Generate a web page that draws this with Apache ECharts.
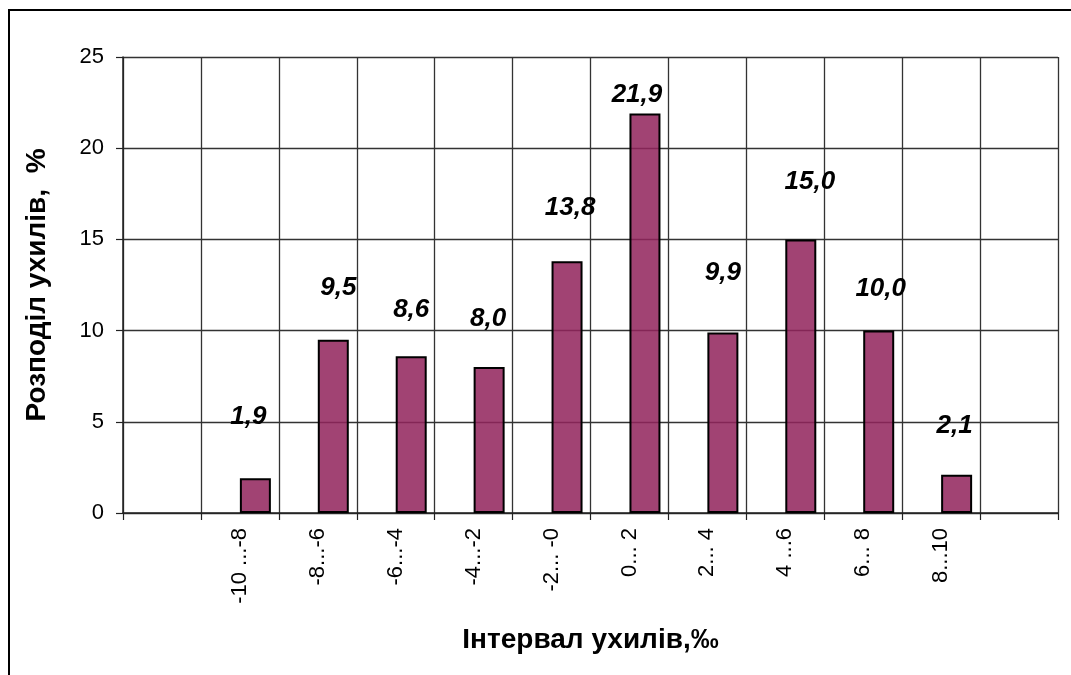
<!DOCTYPE html>
<html>
<head>
<meta charset="utf-8">
<title>Розподіл ухилів</title>
<script src="https://cdn.jsdelivr.net/npm/echarts@6/dist/echarts.min.js"></script>
<style>
  html, body { margin: 0; padding: 0; background: #ffffff; }
  #chart { width: 1071px; height: 675px; }
</style>
</head>
<body>
<div id="chart"></div>
<script>
// Deviation intervals (‰); the outer slots stay empty to pad the axis
const categories = ['', '-10 ...-8', '-8...-6', '-6...-4', '-4...-2', '-2... -0', '0... 2', '2... 4', '4 ...6', '6... 8', '8...10', ''];
// Share of deviations in each interval, %
const shares = [null, 1.9, 9.5, 8.6, 8.0, 13.8, 21.9, 9.9, 15.0, 10.0, 2.1, null];
// Empty companion series: keeps each bar in the right half of its slot
const spacer = categories.map(() => null);
// Hand placement of each value label, relative to its bar top [dx, dy]
const labelShift = [null, [-7, -62], [5, -52], [0, -46], [-1, -48], [3, -53], [-8, -19], [0, -60], [9, -58], [2, -42], [-2, -49], null];

const FONT = '"Liberation Sans", Arial, sans-serif';

const chart = echarts.init(document.getElementById('chart'), null, { renderer: 'canvas' });

const barData = shares.map((v, i) => {
  if (v === null) return null;
  return {
    value: v,
    label: { offset: labelShift[i] }
  };
});

chart.setOption({
  animation: false,
  backgroundColor: '#ffffff',
  grid: { left: 123, right: 13, top: 57, bottom: 162, containLabel: false },
  graphic: [{
    type: 'rect',
    shape: { x: 9, y: 10, width: 1090, height: 700 },
    style: { fill: 'none', stroke: '#000', lineWidth: 2 },
    silent: true
  }],
  xAxis: {
    type: 'category',
    data: categories,
    boundaryGap: true,
    name: 'Інтервал ухилів,‰',
    nameLocation: 'middle',
    nameGap: 113,
    nameTextStyle: { fontFamily: FONT, fontSize: 28, fontWeight: 'bold', color: '#000' },
    axisLine: { show: true, lineStyle: { color: '#222', width: 1.5 } },
    axisTick: { show: true, interval: 0, length: 7, lineStyle: { color: '#222', width: 1.2 } },
    axisLabel: {
      interval: 0, rotate: 90, margin: 15,
      fontFamily: FONT, fontSize: 22, color: '#000'
    },
    splitLine: { show: true, interval: 0, lineStyle: { color: '#333', width: 1.3 } }
  },
  yAxis: {
    type: 'value',
    min: 0, max: 25, interval: 5,
    name: 'Розподіл ухилів,  %',
    nameLocation: 'middle',
    nameGap: 72,
    nameTextStyle: { fontFamily: FONT, fontSize: 28, fontWeight: 'bold', color: '#000' },
    axisLine: { show: true, lineStyle: { color: '#222', width: 1.5 } },
    axisTick: { show: true, length: 7, lineStyle: { color: '#222', width: 1.2 } },
    axisLabel: { margin: 19, fontFamily: FONT, fontSize: 22, color: '#000' },
    splitLine: { show: true, lineStyle: { color: '#333', width: 1.3 } }
  },
  series: [
    {
      type: 'bar',
      data: spacer,
      barWidth: 31,
      barGap: '0%',
      silent: true
    },
    {
      type: 'bar',
      data: barData,
      barWidth: 31,
      barGap: '0%',
      itemStyle: {
        color: 'rgba(146, 36, 92, 0.86)',
        borderColor: '#000',
        borderWidth: 2
      },
      label: {
        show: true,
        position: 'top',
        distance: 0,
        verticalAlign: 'middle',
        fontFamily: FONT,
        fontSize: 26,
        fontWeight: 'bold',
        fontStyle: 'italic',
        color: '#000',
        formatter: p => p.value.toFixed(1).replace('.', ',')
      }
    }
  ]
});
</script>
</body>
</html>
